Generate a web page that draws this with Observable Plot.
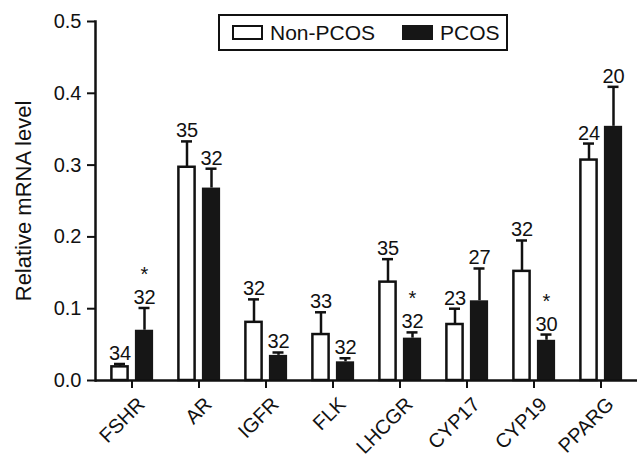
<!DOCTYPE html>
<html><head><meta charset="utf-8">
<script src="https://cdn.jsdelivr.net/npm/d3@7"></script>
<script src="https://cdn.jsdelivr.net/npm/@observablehq/plot@0.6"></script>
<style>
body{margin:0;background:#fff;font-family:"Liberation Sans",Arial,Helvetica,sans-serif;color:#111;}
#wrap{position:relative;width:639px;height:459px;}
#wrap svg{position:absolute;left:0;top:0;}
.lg{position:absolute;box-sizing:border-box;}
#lgbox{left:218px;top:14px;width:290px;height:37px;border:2px solid #111;background:#fff;}
#sw1{left:232px;top:25px;width:31px;height:15px;border:2px solid #111;background:#fff;}
#sw2{left:402px;top:25px;width:31px;height:15px;background:#161616;}
.lt{position:absolute;font-size:21px;line-height:21px;top:22px;}
</style></head>
<body><div id="wrap"></div>
<script>
const genes = ["FSHR","AR","IGFR","FLK","LHCGR","CYP17","CYP19","PPARG"];
const nonMean = [0.019, 0.297, 0.081, 0.064, 0.137, 0.078, 0.152, 0.307];
const nonSem  = [0.004, 0.036, 0.032, 0.031, 0.032, 0.022, 0.043, 0.023];
const pcosMean = [0.070, 0.268, 0.035, 0.026, 0.059, 0.111, 0.056, 0.354];
const pcosSem  = [0.031, 0.027, 0.004, 0.005, 0.008, 0.045, 0.008, 0.055];
const nonN  = [34, 35, 32, 33, 35, 23, 32, 24];
const pcosN = [32, 32, 32, 32, 32, 27, 30, 20];
const pcosSig = [true, false, false, false, true, false, true, false];
const yTicks = [0, 0.1, 0.2, 0.3, 0.4, 0.5];

const data = genes.map((g, i) => ({
  gene: g, non: nonMean[i], nonTop: nonMean[i] + nonSem[i],
  pcos: pcosMean[i], pcosTop: pcosMean[i] + pcosSem[i],
  nonN: nonN[i], pcosN: pcosN[i], sig: pcosSig[i]
}));

const ink = "#111";
const plot = Plot.plot({
  width: 639, height: 459,
  marginLeft: 95, marginRight: 2, marginTop: 21, marginBottom: 79,
  style: {fontFamily: '"Liberation Sans", Arial, Helvetica, sans-serif', fontSize: "20px", color: ink, background: "transparent"},
  x: {domain: genes, padding: 0},
  y: {domain: [0, 0.5]},
  marks: [
    Plot.barY(data, {x: "gene", y: "non", fill: "white", stroke: ink, strokeWidth: 2.5, insetLeft: 13.4, insetRight: 37.4}),
    Plot.barY(data, {x: "gene", y: "pcos", fill: "#161616", insetLeft: 36.9, insetRight: 11.9}),
    Plot.ruleX(data, {x: "gene", y1: "non", y2: "nonTop", dx: -12, stroke: ink, strokeWidth: 2.5}),
    Plot.tickY(data, {x: "gene", y: "nonTop", dx: -12, insetLeft: 28, insetRight: 28, stroke: ink, strokeWidth: 2.5}),
    Plot.ruleX(data, {x: "gene", y1: "pcos", y2: "pcosTop", dx: 12.5, stroke: ink, strokeWidth: 2.5}),
    Plot.tickY(data, {x: "gene", y: "pcosTop", dx: 12.5, insetLeft: 28, insetRight: 28, stroke: ink, strokeWidth: 2.5}),
    Plot.text(data, {x: "gene", y: "nonTop", text: "nonN", dx: -12, dy: -4, lineAnchor: "bottom", fontSize: 20, fill: ink}),
    Plot.text(data, {x: "gene", y: "pcosTop", text: "pcosN", dx: 12.5, dy: -4, lineAnchor: "bottom", fontSize: 20, fill: ink}),
    Plot.text(data.filter(d => d.sig), {x: "gene", y: "pcosTop", text: () => "*", dx: 12.5, dy: -27, lineAnchor: "bottom", fontSize: 20, fill: ink}),
    Plot.axisY({ticks: yTicks, tickFormat: d3.format(".1f"), tickSize: 8, tickPadding: 6, strokeWidth: 2, stroke: ink, fill: ink, fontSize: 20,
      label: "Relative mRNA level", labelAnchor: "center", labelArrow: "none", labelOffset: 80}),
    Plot.axisX({tickSize: 8, text: null, strokeWidth: 2, stroke: ink, label: null}),
    Plot.text(genes, {x: d => d, y: () => 0, text: d => d, rotate: -45, textAnchor: "end", lineAnchor: "top", dx: 4, dy: 15, fontSize: 20, fill: ink}),
    Plot.ruleY([0], {stroke: ink, strokeWidth: 2.5}),
    Plot.frame({anchor: "left", stroke: ink, strokeWidth: 2.5})
  ]
});
const wrap = document.getElementById("wrap");
wrap.appendChild(plot);
// enlarge the y-axis title to match the reference
plot.querySelectorAll("[aria-label='y-axis label'] text").forEach(t => t.setAttribute("font-size", "22"));
const add = (id, cls, txt, style) => { const d = document.createElement("div"); if (id) d.id = id; d.className = cls; if (txt) d.textContent = txt; if (style) d.style.cssText = style; wrap.appendChild(d); };
add("lgbox", "lg");
add("sw1", "lg");
add("sw2", "lg");
add(null, "lt", "Non-PCOS", "left:270px;");
add(null, "lt", "PCOS", "left:440px;");
</script>
</body></html>
